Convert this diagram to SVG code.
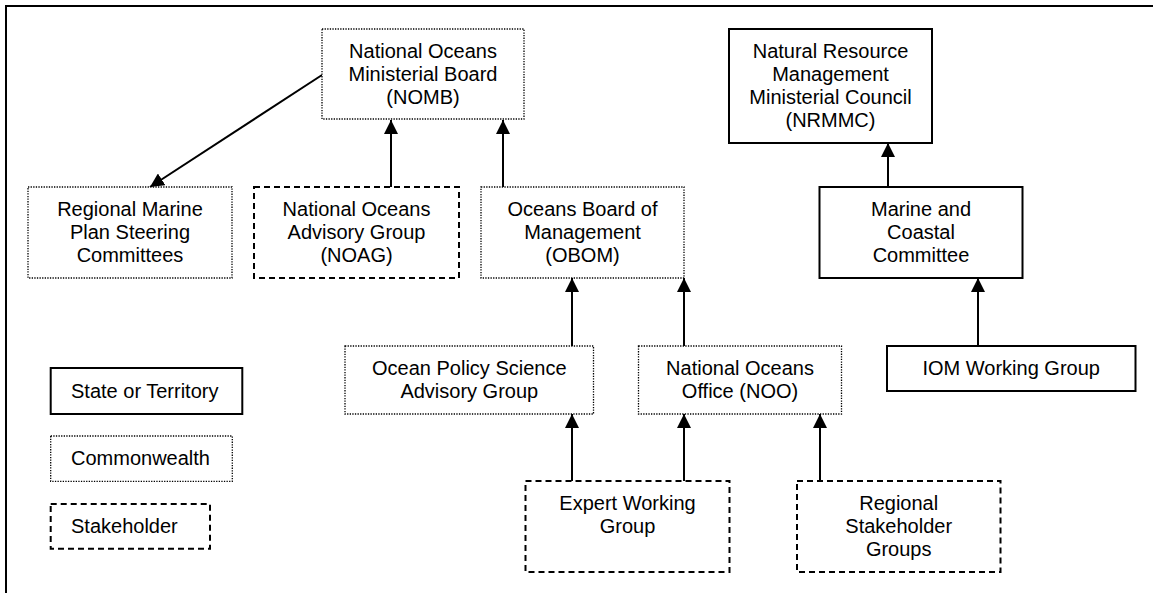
<svg xmlns="http://www.w3.org/2000/svg" width="1153" height="593" viewBox="0 0 1153 593">
  <style>
    .bg { fill: #ffffff; }
    .frame { fill: none; stroke: #000; stroke-width: 2; }
    .solid { fill: #fff; stroke: #000; stroke-width: 2; }
    .dotted { fill: #fff; stroke: #000; stroke-width: 1.3; stroke-dasharray: 1.3 1.3; }
    .dashed { fill: #fff; stroke: #000; stroke-width: 2; stroke-dasharray: 6 4; }
    .lbl { font-family: "Liberation Sans", Arial, Helvetica, sans-serif; font-size: 20px; fill: #000; text-anchor: middle; }
    .leg { font-family: "Liberation Sans", Arial, Helvetica, sans-serif; font-size: 20px; fill: #000; text-anchor: start; }
    .conn { fill: none; stroke: #000; stroke-width: 2; marker-end: url(#arrow); }
  </style>
  <defs>
    <marker id="arrow" markerUnits="userSpaceOnUse" markerWidth="14" markerHeight="14" viewBox="0 0 14 14" refX="14" refY="7" orient="auto">
      <path d="M0,0 L14,7 L0,14 z" fill="#000"/>
    </marker>
  </defs>
  <rect class="bg" x="0" y="0" width="1153" height="593"/>
  <path class="frame" d="M6,593 V6 H1153"/>

  <g id="connectors">
    <line class="conn" x1="322" y1="75" x2="150" y2="187"/>
    <line class="conn" x1="391" y1="187" x2="391" y2="120"/>
    <line class="conn" x1="503" y1="187" x2="503" y2="120"/>
    <line class="conn" x1="888" y1="187" x2="888" y2="143"/>
    <line class="conn" x1="978" y1="346" x2="978" y2="278"/>
    <line class="conn" x1="572" y1="346" x2="572" y2="278"/>
    <line class="conn" x1="684" y1="346" x2="684" y2="278"/>
    <line class="conn" x1="572" y1="481" x2="572" y2="414"/>
    <line class="conn" x1="684" y1="481" x2="684" y2="414"/>
    <line class="conn" x1="820" y1="481" x2="820" y2="414"/>
  </g>

  <g id="nomb">
    <rect class="dotted" x="322" y="29" width="202" height="90"/>
    <text class="lbl" x="423" y="58">National Oceans</text>
    <text class="lbl" x="423" y="81">Ministerial Board</text>
    <text class="lbl" x="423" y="104">(NOMB)</text>
  </g>

  <g id="nrmmc">
    <rect class="solid" x="729" y="29" width="203" height="114"/>
    <text class="lbl" x="830.5" y="58">Natural Resource</text>
    <text class="lbl" x="830.5" y="81">Management</text>
    <text class="lbl" x="830.5" y="104">Ministerial Council</text>
    <text class="lbl" x="830.5" y="127">(NRMMC)</text>
  </g>

  <g id="regional-marine">
    <rect class="dotted" x="28" y="187" width="204" height="91"/>
    <text class="lbl" x="130" y="216">Regional Marine</text>
    <text class="lbl" x="130" y="239">Plan Steering</text>
    <text class="lbl" x="130" y="262">Committees</text>
  </g>

  <g id="noag">
    <rect class="dashed" x="254" y="187" width="205" height="91"/>
    <text class="lbl" x="356.5" y="216">National Oceans</text>
    <text class="lbl" x="356.5" y="239">Advisory Group</text>
    <text class="lbl" x="356.5" y="262">(NOAG)</text>
  </g>

  <g id="obom">
    <rect class="dotted" x="481" y="187" width="203" height="91"/>
    <text class="lbl" x="582.5" y="216">Oceans Board of</text>
    <text class="lbl" x="582.5" y="239">Management</text>
    <text class="lbl" x="582.5" y="262">(OBOM)</text>
  </g>

  <g id="marine-coastal">
    <rect class="solid" x="819.5" y="187" width="203" height="91"/>
    <text class="lbl" x="921" y="216">Marine and</text>
    <text class="lbl" x="921" y="239">Coastal</text>
    <text class="lbl" x="921" y="262">Committee</text>
  </g>

  <g id="opsag">
    <rect class="dotted" x="345" y="346" width="248.5" height="68"/>
    <text class="lbl" x="469.3" y="375">Ocean Policy Science</text>
    <text class="lbl" x="469.3" y="398">Advisory Group</text>
  </g>

  <g id="noo">
    <rect class="dotted" x="638.5" y="346" width="203" height="68"/>
    <text class="lbl" x="740" y="375">National Oceans</text>
    <text class="lbl" x="740" y="398">Office (NOO)</text>
  </g>

  <g id="iom">
    <rect class="solid" x="887" y="346" width="248.5" height="45"/>
    <text class="lbl" x="1011.2" y="375">IOM Working Group</text>
  </g>

  <g id="ewg">
    <rect class="dashed" x="525.5" y="481" width="204" height="91"/>
    <text class="lbl" x="627.5" y="510">Expert Working</text>
    <text class="lbl" x="627.5" y="533">Group</text>
  </g>

  <g id="rsg">
    <rect class="dashed" x="797" y="481" width="203.5" height="91"/>
    <text class="lbl" x="898.7" y="510">Regional</text>
    <text class="lbl" x="898.7" y="533">Stakeholder</text>
    <text class="lbl" x="898.7" y="556">Groups</text>
  </g>

  <g id="legend-state">
    <rect class="solid" x="50.7" y="368" width="191.6" height="46"/>
    <text class="leg" x="71" y="397.5">State or Territory</text>
  </g>

  <g id="legend-commonwealth">
    <rect class="dotted" x="50.7" y="436" width="181.6" height="45.3"/>
    <text class="leg" x="71" y="465">Commonwealth</text>
  </g>

  <g id="legend-stakeholder">
    <rect class="dashed" x="50.7" y="504" width="159.3" height="44.7"/>
    <text class="leg" x="71" y="533">Stakeholder</text>
  </g>
</svg>
